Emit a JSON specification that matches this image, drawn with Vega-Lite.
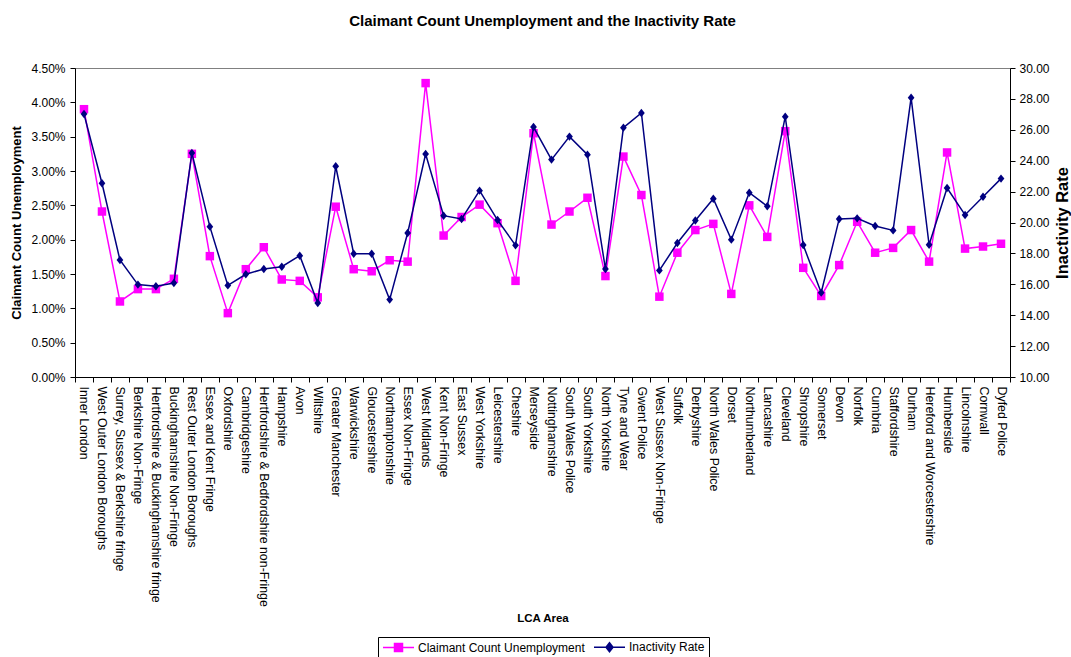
{
  "$schema": "https://vega.github.io/schema/vega-lite/v6.json",
  "autosize": {"type": "none"},
  "width": 935,
  "height": 309,
  "padding": {"left": 75, "top": 68, "right": 61, "bottom": 280},
  "background": "white",
  "config": {
    "font": "Liberation Sans",
    "view": {"stroke": "#808080", "strokeWidth": 1},
    "axis": {
      "labelFont": "Liberation Sans", "labelFontSize": 12, "labelColor": "black",
      "titleFont": "Liberation Sans", "titleFontWeight": "bold", "titleColor": "black",
      "domainColor": "black", "tickColor": "black", "grid": false, "tickSize": 5, "labelPadding": 4
    }
  },
  "title": {
    "text": "Claimant Count Unemployment and the Inactivity Rate",
    "font": "Liberation Sans", "fontSize": 15, "fontWeight": "bold", "color": "black",
    "anchor": "middle", "offset": 33
  },
  "data": {
    "values": [
      {"area": "Inner London", "claimant": 0.0390, "inactivity": 27.02},
      {"area": "West Outer London Boroughs", "claimant": 0.0241, "inactivity": 22.54},
      {"area": "Surrey, Sussex & Berkshire fringe", "claimant": 0.0110, "inactivity": 17.57},
      {"area": "Berkshire Non-Fringe", "claimant": 0.0128, "inactivity": 15.98},
      {"area": "Hertfordshire & Buckinghamshire fringe", "claimant": 0.0128, "inactivity": 15.87},
      {"area": "Buckinghamshire Non-Fringe", "claimant": 0.0143, "inactivity": 16.08},
      {"area": "Rest Outer London Boroughs", "claimant": 0.0325, "inactivity": 24.50},
      {"area": "Essex and Kent Fringe", "claimant": 0.0176, "inactivity": 19.73},
      {"area": "Oxfordshire", "claimant": 0.0093, "inactivity": 15.93},
      {"area": "Cambridgeshire", "claimant": 0.0157, "inactivity": 16.65},
      {"area": "Hertfordshire & Bedfordshire non-Fringe", "claimant": 0.0189, "inactivity": 16.99},
      {"area": "Hampshire", "claimant": 0.0142, "inactivity": 17.14},
      {"area": "Avon", "claimant": 0.0140, "inactivity": 17.85},
      {"area": "Wiltshire", "claimant": 0.0116, "inactivity": 14.79},
      {"area": "Greater Manchester", "claimant": 0.0248, "inactivity": 23.64},
      {"area": "Warwickshire", "claimant": 0.0157, "inactivity": 17.98},
      {"area": "Gloucestershire", "claimant": 0.0154, "inactivity": 17.98},
      {"area": "Northamptonshire", "claimant": 0.0170, "inactivity": 15.01},
      {"area": "Essex Non-Fringe", "claimant": 0.0168, "inactivity": 19.32},
      {"area": "West Midlands", "claimant": 0.0428, "inactivity": 24.43},
      {"area": "Kent Non-Fringe", "claimant": 0.0206, "inactivity": 20.44},
      {"area": "East Sussex", "claimant": 0.0233, "inactivity": 20.23},
      {"area": "West Yorkshire", "claimant": 0.0251, "inactivity": 22.06},
      {"area": "Leicestershire", "claimant": 0.0224, "inactivity": 20.16},
      {"area": "Cheshire", "claimant": 0.0140, "inactivity": 18.52},
      {"area": "Merseyside", "claimant": 0.0355, "inactivity": 26.18},
      {"area": "Nottinghamshire", "claimant": 0.0222, "inactivity": 24.07},
      {"area": "South Wales Police", "claimant": 0.0241, "inactivity": 25.56},
      {"area": "South Yorkshire", "claimant": 0.0261, "inactivity": 24.39},
      {"area": "North Yorkshire", "claimant": 0.0147, "inactivity": 16.99},
      {"area": "Tyne and Wear", "claimant": 0.0321, "inactivity": 26.14},
      {"area": "Gwent Police", "claimant": 0.0265, "inactivity": 27.09},
      {"area": "West Sussex Non-Fringe", "claimant": 0.0117, "inactivity": 16.90},
      {"area": "Suffolk", "claimant": 0.0181, "inactivity": 18.67},
      {"area": "Derbyshire", "claimant": 0.0214, "inactivity": 20.13},
      {"area": "North Wales Police", "claimant": 0.0223, "inactivity": 21.54},
      {"area": "Dorset", "claimant": 0.0121, "inactivity": 18.89},
      {"area": "Northumberland", "claimant": 0.0250, "inactivity": 21.93},
      {"area": "Lancashire", "claimant": 0.0204, "inactivity": 21.05},
      {"area": "Cleveland", "claimant": 0.0358, "inactivity": 26.85},
      {"area": "Shropshire", "claimant": 0.0159, "inactivity": 18.54},
      {"area": "Somerset", "claimant": 0.0118, "inactivity": 15.46},
      {"area": "Devon", "claimant": 0.0163, "inactivity": 20.23},
      {"area": "Norfolk", "claimant": 0.0226, "inactivity": 20.27},
      {"area": "Cumbria", "claimant": 0.0181, "inactivity": 19.77},
      {"area": "Staffordshire", "claimant": 0.0188, "inactivity": 19.49},
      {"area": "Durham", "claimant": 0.0214, "inactivity": 28.08},
      {"area": "Hereford and Worcestershire", "claimant": 0.0168, "inactivity": 18.56},
      {"area": "Humberside", "claimant": 0.0327, "inactivity": 22.23},
      {"area": "Lincolnshire", "claimant": 0.0187, "inactivity": 20.49},
      {"area": "Cornwall", "claimant": 0.0190, "inactivity": 21.67},
      {"area": "Dyfed Police", "claimant": 0.0194, "inactivity": 22.84}
    ]
  },
  "transform": [
    {"fold": ["claimant", "inactivity"], "as": ["series", "value"]}
  ],
  "encoding": {
    "x": {
      "field": "area", "type": "nominal", "sort": null,
      "scale": {"type": "band", "paddingInner": 0, "paddingOuter": 0},
      "axis": {
        "title": "LCA Area", "titleFontSize": 11.5, "titlePadding": 35,
        "labelAngle": 90, "labelFontSize": 12.4, "labelPadding": 4,
        "tickBand": "extent", "labelLimit": 300
      }
    },
    "color": {
      "field": "series", "type": "nominal",
      "scale": {"domain": ["claimant", "inactivity"], "range": ["#FF00FF", "#000080"]},
      "legend": {
        "orient": "none", "legendX": 303, "legendY": 569, "direction": "horizontal",
        "title": null, "strokeColor": "black", "fillColor": "white", "padding": 4,
        "labelExpr": "datum.value === 'claimant' ? 'Claimant Count Unemployment' : 'Inactivity Rate'",
        "labelFont": "Liberation Sans", "labelFontSize": 12, "labelColor": "black", "labelLimit": 300,
        "symbolSize": 100, "columnPadding": 6, "labelOffset": 24,
        "encode": {
          "symbols": {
            "update": {
              "shape": {"signal": "datum.value === 'claimant' ? 'M-1,0H5.2M1.3,-0.8H2.9V0.8H1.3Z' : 'M-1,0H5.2M2.1,-0.9L2.8,0L2.1,0.9L1.4,0Z'"},
              "fill": {"scale": "color", "field": "value"},
              "stroke": {"scale": "color", "field": "value"},
              "strokeWidth": {"value": 1.5},
              "opacity": {"value": 1}
            }
          }
        }
      }
    }
  },
  "layer": [
    {
      "transform": [{"filter": "datum.series === 'claimant'"}],
      "encoding": {
        "y": {
          "field": "value", "type": "quantitative",
          "scale": {"domain": [0, 0.045], "nice": false, "zero": false},
          "axis": {
            "orient": "left", "title": "Claimant Count Unemployment", "titleFontSize": 13,
            "titlePadding": 7, "labelPadding": 5, "format": ".2%",
            "values": [0, 0.005, 0.01, 0.015, 0.02, 0.025, 0.03, 0.035, 0.04, 0.045]
          }
        }
      },
      "layer": [
        {"mark": {"type": "line", "strokeWidth": 1.5}},
        {"mark": {"type": "point", "shape": "square", "filled": true, "size": 72, "opacity": 1}}
      ]
    },
    {
      "transform": [{"filter": "datum.series === 'inactivity'"}],
      "encoding": {
        "y": {
          "field": "value", "type": "quantitative",
          "scale": {"domain": [10, 30], "nice": false, "zero": false},
          "axis": {
            "orient": "right", "title": "Inactivity Rate", "titleFontSize": 16.5,
            "titleAngle": 270, "titleBaseline": "top", "titlePadding": 5, "format": ".2f",
            "values": [10, 12, 14, 16, 18, 20, 22, 24, 26, 28, 30]
          }
        }
      },
      "layer": [
        {"mark": {"type": "line", "strokeWidth": 1.5}},
        {"mark": {"type": "point", "shape": "M0,-1.05L0.84,0L0,1.05L-0.84,0Z", "filled": true, "size": 64, "opacity": 1}}
      ]
    }
  ],
  "resolve": {"scale": {"y": "independent"}}
}
